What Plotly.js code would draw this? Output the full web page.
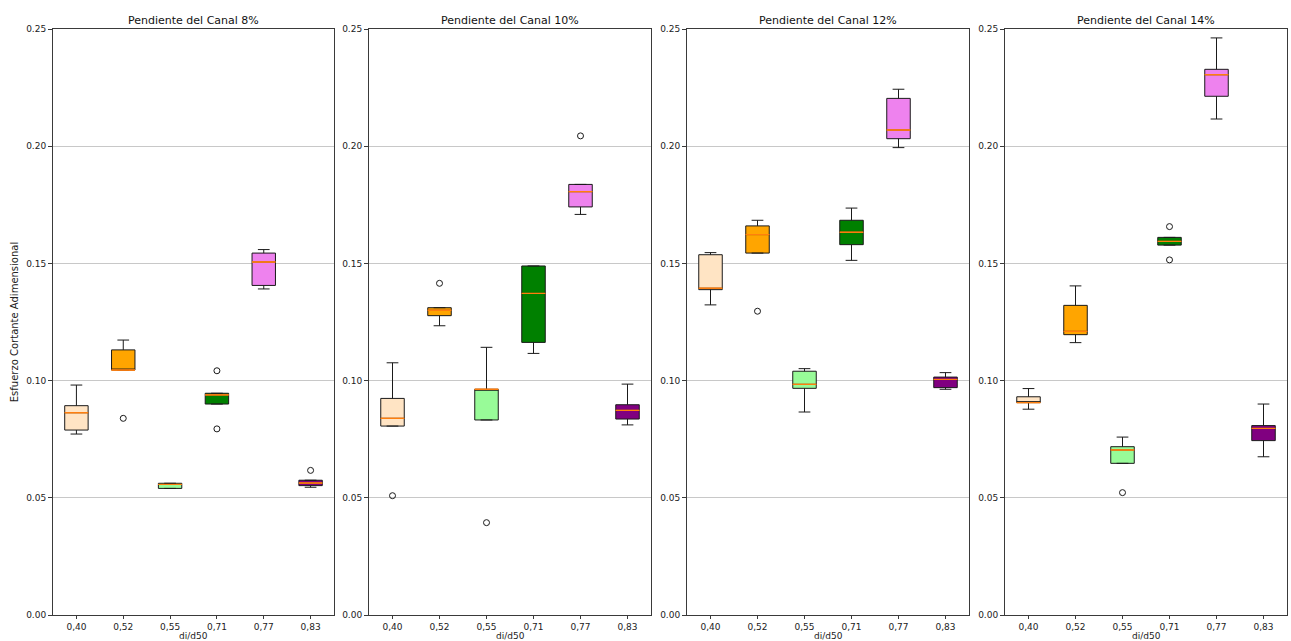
<!DOCTYPE html>
<html><head><meta charset="utf-8">
<script src="https://cdn.plot.ly/plotly-3.0.1.min.js"></script>
<style>html,body{margin:0;padding:0;background:#fff}#chart{width:1291px;height:641px}</style>
</head><body><div id="chart"></div>
<script>
const categories = ['0,40','0,52','0,55','0,71','0,77','0,83'];
const slopeTitles = ['Pendiente del Canal 8%','Pendiente del Canal 10%','Pendiente del Canal 12%','Pendiente del Canal 14%'];
const xTitle = 'di/d50';
const yTitle = 'Esfuerzo Cortante Adimensional';
const boxColors = ['bisque','orange','palegreen','green','violet','purple'];

// Slope 8%
const lower8  = [0.0772, 0.1045, 0.0540, 0.0900, 0.1391, 0.0545];
const q1_8    = [0.0789, 0.1045, 0.0540, 0.0900, 0.1406, 0.0552];
const median8 = [0.0863, 0.1045, 0.0557, 0.0939, 0.1506, 0.0563];
const q3_8    = [0.0893, 0.1131, 0.0562, 0.0946, 0.1544, 0.0575];
const upper8  = [0.0981, 0.1173, 0.0562, 0.0946, 0.1559, 0.0575];
const outX8   = ['0,52','0,71','0,71','0,83'];
const outY8   = [0.0839, 0.1042, 0.0794, 0.0617];

// Slope 10%
const lower10  = [0.0806, 0.1234, 0.0832, 0.1116, 0.1709, 0.0811];
const q1_10    = [0.0806, 0.1277, 0.0832, 0.1163, 0.1741, 0.0836];
const median10 = [0.0839, 0.1300, 0.0963, 0.1372, 0.1806, 0.0873];
const q3_10    = [0.0924, 0.1311, 0.0963, 0.1489, 0.1837, 0.0897];
const upper10  = [0.1076, 0.1311, 0.1142, 0.1489, 0.1837, 0.0985];
const outX10   = ['0,40','0,52','0,55','0,77'];
const outY10   = [0.0509, 0.1415, 0.0394, 0.2044];

// Slope 12%
const lower12  = [0.1323, 0.1544, 0.0866, 0.1513, 0.1994, 0.0963];
const q1_12    = [0.1388, 0.1544, 0.0967, 0.1580, 0.2032, 0.0970];
const median12 = [0.1394, 0.1623, 0.0984, 0.1633, 0.2069, 0.1005];
const q3_12    = [0.1537, 0.1660, 0.1040, 0.1684, 0.2204, 0.1015];
const upper12  = [0.1546, 0.1684, 0.1051, 0.1736, 0.2243, 0.1034];
const outX12   = ['0,52'];
const outY12   = [0.1296];

// Slope 14%
const lower14  = [0.0878, 0.1162, 0.0647, 0.1578, 0.2116, 0.0675];
const q1_14    = [0.0906, 0.1196, 0.0647, 0.1578, 0.2213, 0.0744];
const median14 = [0.0906, 0.1210, 0.0704, 0.1594, 0.2305, 0.0796];
const q3_14    = [0.0931, 0.1321, 0.0718, 0.1611, 0.2328, 0.0808];
const upper14  = [0.0966, 0.1404, 0.0759, 0.1611, 0.2462, 0.0900];
const outX14   = ['0,55','0,71','0,71'];
const outY14   = [0.0522, 0.1657, 0.1515];

const panels = [
  {lower:lower8,  q1:q1_8,  med:median8,  q3:q3_8,  upper:upper8,  ox:outX8,  oy:outY8},
  {lower:lower10, q1:q1_10, med:median10, q3:q3_10, upper:upper10, ox:outX10, oy:outY10},
  {lower:lower12, q1:q1_12, med:median12, q3:q3_12, upper:upper12, ox:outX12, oy:outY12},
  {lower:lower14, q1:q1_14, med:median14, q3:q3_14, upper:upper14, ox:outX14, oy:outY14}
];

const W = 1291, H = 641;
const xPix = [[53,334],[369,651],[687,969],[1005,1287]];
const yDom = [(H-615)/H, (H-29)/H];
const FONT = 'DejaVu Sans, sans-serif';

const traces = [];
const layout = {
  width: W, height: H,
  margin: {l:0, r:0, t:0, b:0},
  paper_bgcolor: '#fff', plot_bgcolor: '#fff',
  showlegend: false, boxmode: 'overlay',
  font: {family: FONT, size: 9, color: '#222'},
  annotations: []
};

panels.forEach((p, i) => {
  const n = i + 1;
  const xa = n === 1 ? 'x' : 'x' + n;
  const ya = n === 1 ? 'y' : 'y' + n;
  categories.forEach((c, j) => {
    traces.push({
      type: 'box', x: [c], xaxis: xa, yaxis: ya,
      q1: [p.q1[j]], median: [p.med[j]], q3: [p.q3[j]],
      lowerfence: [p.lower[j]], upperfence: [p.upper[j]],
      boxpoints: false, width: 0.5, whiskerwidth: 0.5,
      fillcolor: boxColors[j], line: {color: '#1a1a1a', width: 1},
      hoverinfo: 'skip'
    });
    traces.push({
      type: 'box', x: [c], xaxis: xa, yaxis: ya,
      q1: [p.med[j]], median: [p.med[j]], q3: [p.med[j]],
      lowerfence: [p.med[j]], upperfence: [p.med[j]],
      boxpoints: false, width: 0.5, whiskerwidth: 0,
      fillcolor: 'rgba(0,0,0,0)', line: {color: '#ff7f0e', width: 1},
      hoverinfo: 'skip'
    });
  });
  traces.push({
    type: 'scatter', mode: 'markers', x: p.ox, y: p.oy, xaxis: xa, yaxis: ya,
    marker: {symbol: 'circle-open', size: 6, color: '#1a1a1a', line: {width: 1, color: '#1a1a1a'}},
    hoverinfo: 'skip'
  });
  const kx = n === 1 ? 'xaxis' : 'xaxis' + n;
  const ky = n === 1 ? 'yaxis' : 'yaxis' + n;
  layout[kx] = {
    domain: [xPix[i][0]/W, xPix[i][1]/W], anchor: ya,
    type: 'category', categoryorder: 'array', categoryarray: categories,
    range: [-0.5, 5.5], showline: true, mirror: true, linecolor: '#3a3a3a', linewidth: 1,
    ticks: 'outside', ticklen: 3, tickcolor: '#3a3a3a', showgrid: false, zeroline: false,
    tickfont: {family: FONT, size: 9, color: '#222'},
    fixedrange: true, automargin: false
  };
  layout[ky] = {
    domain: yDom, anchor: xa, range: [0, 0.25], dtick: 0.05, tick0: 0, tickformat: '.2f',
    showline: true, mirror: true, linecolor: '#3a3a3a', linewidth: 1,
    ticks: 'outside', ticklen: 4, tickcolor: '#3a3a3a',
    showgrid: true, gridcolor: '#c8c8c8', gridwidth: 1, zeroline: false,
    tickfont: {family: FONT, size: 9, color: '#222'},
    fixedrange: true, automargin: false
  };
  if (n === 1) {
    layout[ky].title = {text: yTitle, font: {family: FONT, size: 10, color: '#222'}, standoff: 5};
  }
  layout.annotations.push({
    text: slopeTitles[i], xref: xa + ' domain', yref: ya + ' domain',
    x: 0.5, y: 1, xanchor: 'center', yanchor: 'bottom', yshift: 0, showarrow: false,
    font: {family: FONT, size: 11, color: '#111'}
  });
  layout.annotations.push({
    text: xTitle, xref: xa + ' domain', yref: ya + ' domain',
    x: 0.5, y: 0, xanchor: 'center', yanchor: 'top', yshift: -14, showarrow: false,
    font: {family: FONT, size: 9, color: '#222'}
  });
});

Plotly.newPlot('chart', traces, layout, {staticPlot: true, displayModeBar: false});
</script>
</body></html>
